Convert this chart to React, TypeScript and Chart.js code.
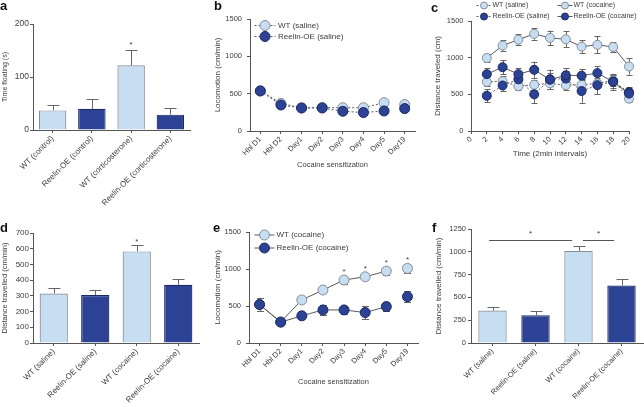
import React, { useEffect, useRef } from 'react';
import { Chart, registerables } from 'chart.js';

Chart.register(...registerables);

const FONT = "'Liberation Sans', Arial, Helvetica, sans-serif";
Chart.defaults.font.family = FONT;
Chart.defaults.color = '#3c3c3c';

const LIGHT = '#c7ddf1';
const LIGHT_EDGE = '#858d98';
const DARK = '#2c4395';
const DARK_EDGE = '#1b2863';
const AXIS = '#555555';
const LINE = '#5a5a5a';
const ERR = '#666666';
const TXT = '#3c3c3c';

// ---------------- data ----------------
// panel a
const aLabels = ['WT (control)', 'Reelin-OE (control)', 'WT (corticosterone)', 'Reelin-OE (corticosterone)'];
const aMeans = [37, 40, 122, 29];
const aSem = [10, 18, 29, 13];
const aStarIdx = [2];
const aStarVal = [165];
const aYMax = 200;
const aYStep = 100;

// panel b
const bLabels = ['Hbl D1', 'Hbl D2', 'Day1', 'Day2', 'Day3', 'Day4', 'Day5', 'Day19'];
const bSeries = ['WT (saline)', 'Reelin-OE (saline)'];
const bWT = [540, 370, 310, 315, 312, 312, 380, 355];
const bWTErr = [40, 30, 25, 25, 20, 25, 40, 25];
const bOE = [535, 348, 308, 308, 264, 247, 268, 300];
const bOEErr = [45, 25, 20, 20, 20, 20, 20, 35];
const bYMax = 1500;
const bYStep = 500;

// panel c
const cTimes = [2, 4, 6, 8, 10, 12, 14, 16, 18, 20];
const cSeries = ['WT (saline)', 'WT (cocaine)', 'Reelin-OE (saline)', 'Reelin-OE (cocaine)'];
const cWTSal = [670, 680, 610, 630, 650, 625, 630, 650, 690, 440];
const cWTSalErr = [60, 70, 55, 70, 80, 60, 60, 70, 70, 50];
const cWTCoc = [995, 1165, 1245, 1325, 1270, 1250, 1150, 1175, 1145, 880];
const cWTCocErr = [55, 70, 75, 80, 100, 110, 85, 115, 70, 110];
const cOESal = [480, 620, 705, 500, 705, 715, 545, 625, 675, 530];
const cOESalErr = [90, 70, 70, 120, 130, 110, 160, 120, 90, 70];
const cOECoc = [775, 870, 775, 835, 700, 760, 755, 790, 670, 510];
const cOECocErr = [80, 95, 85, 110, 90, 100, 90, 95, 110, 80];
const cXMax = 20;
const cXStep = 2;
const cYMax = 1500;
const cYStep = 500;

// panel d
const dLabels = ['WT (saline)', 'Reelin-OE (saline)', 'WT (cocaine)', 'Reelin-OE (cocaine)'];
const dMeans = [315, 305, 583, 370];
const dSem = [32, 35, 40, 40];
const dStarIdx = [2];
const dStarVal = [657];
const dYMax = 700;
const dYStep = 100;

// panel e
const eLabels = ['Hbl D1', 'Hbl D2', 'Day1', 'Day2', 'Day3', 'Day4', 'Day5', 'Day19'];
const eSeries = ['WT (cocaine)', 'Reelin-OE (cocaine)'];
const eWT = [518, 285, 582, 716, 851, 895, 972, 1008];
const eWTErr = [90, 30, 25, 40, 50, 50, 55, 60];
const eOE = [520, 282, 367, 447, 447, 411, 492, 626];
const eOEErr = [90, 30, 30, 65, 55, 85, 65, 75];
const eStarIdx = [4, 5, 6, 7];
const eStarVal = [995, 1030, 1110, 1155];
const eYMax = 1500;
const eYStep = 500;

// panel f
const fLabels = ['WT (saline)', 'Reelin-OE (saline)', 'WT (cocaine)', 'Reelin-OE (cocaine)'];
const fMeans = [355, 305, 1010, 630];
const fSem = [38, 42, 58, 72];
const fSigFrom = [0, 2];
const fSigTo = [2, 3];
const fSigVal = [1130, 1130];
const fStarVal = [1220, 1220];
const fYMax = 1250;
const fYStep = 250;

// ---------------- layout (style) ----------------
type Box = { x: number; y: number; w: number; h: number; L: number; T: number; R: number; B: number; xH: number };
const boxA: Box = { x: 0, y: 0, w: 215, h: 215, L: 33, T: 24, R: 190, B: 130, xH: 85 };
const boxB: Box = { x: 215, y: 0, w: 215, h: 200, L: 35, T: 19, R: 200, B: 131, xH: 38.5 };
const boxC: Box = { x: 430, y: 0, w: 214, h: 200, L: 41, T: 21, R: 199, B: 131, xH: 27.5 };
const boxD: Box = { x: 0, y: 200, w: 215, h: 207, L: 33, T: 33, R: 199, B: 143, xH: 64 };
const boxE: Box = { x: 215, y: 200, w: 215, h: 207, L: 34, T: 32, R: 203, B: 143, xH: 43 };
const boxF: Box = { x: 430, y: 200, w: 214, h: 207, L: 41, T: 29, R: 213, B: 143, xH: 64 };

function layoutOf(b: Box) {
  return { autoPadding: false, padding: { left: 0, top: b.T, right: b.w - b.R, bottom: b.h - b.B - b.xH } };
}

const plainNum = (v: any) => String(v);

function yAxis(b: Box, max: number, step: number, fs: number, title: string, tfs: number, tpad: number, tickPad: number) {
  return {
    min: 0,
    max,
    ticks: { stepSize: step, font: { size: fs }, color: TXT, padding: tickPad, callback: plainNum },
    grid: { display: true, drawOnChartArea: false, drawTicks: true, tickLength: 3, color: AXIS, lineWidth: 1 },
    border: { display: true, color: AXIS, width: 1 },
    title: { display: true, text: title, font: { size: tfs }, color: TXT, padding: { top: tpad, bottom: 0 } },
    afterFit: (s: any) => { s.width = b.L; },
  };
}

function xCat(b: Box, fs: number, tickPad: number, title?: string, tfs?: number) {
  return {
    type: 'category',
    offset: true,
    ticks: { autoSkip: false, minRotation: 45, maxRotation: 45, font: { size: fs }, color: TXT, padding: tickPad },
    grid: { display: true, drawOnChartArea: false, drawTicks: true, tickLength: 3, offset: false, color: AXIS, lineWidth: 1 },
    border: { display: true, color: AXIS, width: 1 },
    title: title
      ? { display: true, text: title, font: { size: tfs }, color: TXT, padding: { top: 0, bottom: 0 } }
      : { display: false },
    afterFit: (s: any) => { s.height = b.xH; },
  };
}

type LegendItem = { ds: number; x: number; y: number };
type Extras = {
  errBoth?: (number[] | null)[];
  errUp?: number[];
  cap?: number;
  stars?: { idx: number[]; val: number[]; size: number };
  sig?: { from: number[]; to: number[]; val: number[]; starVal: number[] };
  legend?: { items: LegendItem[]; half: number; r: number; tx: number; size: number };
};

function yOf(d: any) {
  return typeof d === 'number' ? d : d.y;
}

function extrasPlugin(ex: Extras) {
  return {
    id: 'extras',
    beforeDatasetsDraw(chart: any) {
      if (!ex.errBoth) return;
      const ctx = chart.ctx;
      const ys = chart.scales.y;
      const cap = ex.cap || 6;
      ctx.save();
      ctx.strokeStyle = ERR;
      ctx.lineWidth = 1;
      ex.errBoth.forEach((e, di) => {
        if (!e) return;
        const meta = chart.getDatasetMeta(di);
        const data = chart.data.datasets[di].data;
        meta.data.forEach((pt: any, i: number) => {
          const v = yOf(data[i]);
          const hi = ys.getPixelForValue(v + e[i]);
          const lo = ys.getPixelForValue(v - e[i]);
          const x = Math.round(pt.x) + 0.5;
          ctx.beginPath();
          ctx.moveTo(x, hi);
          ctx.lineTo(x, lo);
          ctx.moveTo(x - cap / 2, Math.round(hi) + 0.5);
          ctx.lineTo(x + cap / 2, Math.round(hi) + 0.5);
          ctx.moveTo(x - cap / 2, Math.round(lo) + 0.5);
          ctx.lineTo(x + cap / 2, Math.round(lo) + 0.5);
          ctx.stroke();
        });
      });
      ctx.restore();
    },
    afterDatasetsDraw(chart: any) {
      const ctx = chart.ctx;
      const ys = chart.scales.y;
      const xs = chart.scales.x;
      ctx.save();
      if (ex.errUp) {
        const meta = chart.getDatasetMeta(0);
        const data = chart.data.datasets[0].data;
        const cap = ex.cap || 12;
        ctx.strokeStyle = ERR;
        ctx.lineWidth = 1;
        meta.data.forEach((bar: any, i: number) => {
          const hi = Math.round(ys.getPixelForValue(data[i] + ex.errUp![i])) + 0.5;
          const x = Math.round(bar.x) + 0.5;
          ctx.beginPath();
          ctx.moveTo(x, bar.y);
          ctx.lineTo(x, hi);
          ctx.moveTo(x - cap / 2, hi);
          ctx.lineTo(x + cap / 2, hi);
          ctx.stroke();
        });
      }
      if (ex.stars) {
        ctx.fillStyle = TXT;
        ctx.font = `${ex.stars.size}px ${FONT}`;
        ctx.textAlign = 'center';
        ctx.textBaseline = 'middle';
        ex.stars.idx.forEach((k, i) => {
          ctx.fillText('*', xs.getPixelForValue(k), ys.getPixelForValue(ex.stars!.val[i]) + 2);
        });
      }
      if (ex.sig) {
        const cw = xs.getPixelForValue(1) - xs.getPixelForValue(0);
        ctx.strokeStyle = AXIS;
        ctx.lineWidth = 1;
        ctx.fillStyle = TXT;
        ctx.font = `8px ${FONT}`;
        ctx.textAlign = 'center';
        ctx.textBaseline = 'middle';
        const offs = [[-0.08, -0.15], [0.1, -0.17]];
        ex.sig.from.forEach((f, i) => {
          const x1 = xs.getPixelForValue(f) + offs[i][0] * cw;
          const x2 = xs.getPixelForValue(ex.sig!.to[i]) + offs[i][1] * cw;
          const y = Math.round(ys.getPixelForValue(ex.sig!.val[i])) + 0.5;
          ctx.beginPath();
          ctx.moveTo(x1, y);
          ctx.lineTo(x2, y);
          ctx.stroke();
          ctx.fillText('*', (x1 + x2) / 2, ys.getPixelForValue(ex.sig!.starVal[i]) + 2);
        });
      }
      if (ex.legend) {
        const lg = ex.legend;
        lg.items.forEach((it) => {
          const ds = chart.data.datasets[it.ds];
          ctx.strokeStyle = LINE;
          ctx.lineWidth = 1;
          ctx.setLineDash(ds.borderDash || []);
          ctx.beginPath();
          ctx.moveTo(it.x - lg.half, it.y + 0.5);
          ctx.lineTo(it.x + lg.half, it.y + 0.5);
          ctx.stroke();
          ctx.setLineDash([]);
          ctx.beginPath();
          ctx.arc(it.x, it.y + 0.5, lg.r, 0, Math.PI * 2);
          ctx.fillStyle = ds.pointBackgroundColor;
          ctx.fill();
          ctx.strokeStyle = ds.pointBorderColor;
          ctx.stroke();
          ctx.fillStyle = TXT;
          ctx.font = `${lg.size}px ${FONT}`;
          ctx.textAlign = 'left';
          ctx.textBaseline = 'middle';
          ctx.fillText(ds.label, it.x + lg.tx, it.y + 0.5);
        });
      }
      ctx.restore();
    },
  };
}

const baseOpts = {
  responsive: false,
  animation: false,
  events: [],
  plugins: { legend: { display: false }, tooltip: { enabled: false } },
};

function barConfig(b: Box, labels: string[], means: number[], sem: number[], o: any) {
  return {
    type: 'bar',
    data: {
      labels,
      datasets: [
        {
          data: means,
          backgroundColor: labels.map((_, i) => (i % 2 === 0 ? LIGHT : DARK)),
          borderColor: labels.map((_, i) => (i % 2 === 0 ? LIGHT_EDGE : DARK_EDGE)),
          borderWidth: 1.2,
          barPercentage: o.barPct,
          categoryPercentage: 1,
        },
      ],
    },
    options: {
      ...baseOpts,
      layout: layoutOf(b),
      scales: {
        x: xCat(b, o.xfs, o.xpad),
        y: yAxis(b, o.max, o.step, o.yfs, o.title, o.tfs, o.tpad, o.ypad),
      },
    },
    plugins: [extrasPlugin({ errUp: sem, cap: o.cap, stars: o.stars, sig: o.sig })],
  };
}

function pointDs(label: string, data: any[], light: boolean, dashed: boolean, r: number, order: number, gapLabel?: string, labels?: string[]) {
  return {
    label,
    data,
    borderColor: LINE,
    borderWidth: 1,
    borderDash: dashed ? [2, 2] : [],
    pointRadius: r,
    pointHoverRadius: r,
    pointBackgroundColor: light ? LIGHT : DARK,
    pointBorderColor: light ? LIGHT_EDGE : DARK_EDGE,
    pointBorderWidth: 1,
    fill: false,
    tension: 0,
    clip: false,
    order,
    segment: gapLabel
      ? { borderColor: (ctx: any) => (labels && labels[ctx.p1DataIndex] === gapLabel ? 'rgba(0,0,0,0)' : undefined) }
      : undefined,
  };
}

function configA() {
  return barConfig(boxA, aLabels, aMeans, aSem, {
    barPct: 0.7, xfs: 8, xpad: 1, max: aYMax, step: aYStep, yfs: 8.5, title: 'Time floating (s)', tfs: 7, tpad: 0.5, ypad: 1, cap: 12,
    stars: { idx: aStarIdx, val: aStarVal, size: 8 },
  });
}

function configD() {
  return barConfig(boxD, dLabels, dMeans, dSem, {
    barPct: 0.68, xfs: 8, xpad: 1, max: dYMax, step: dYStep, yfs: 8, title: 'Distance travelled (cm/min)', tfs: 7.5, tpad: 0, ypad: 1, cap: 12,
    stars: { idx: dStarIdx, val: dStarVal, size: 8 },
  });
}

function configF() {
  return barConfig(boxF, fLabels, fMeans, fSem, {
    barPct: 0.66, xfs: 7.5, xpad: 1, max: fYMax, step: fYStep, yfs: 7.5, title: 'Distance travelled (cm/min)', tfs: 8, tpad: 3.5, ypad: 2, cap: 12,
    sig: { from: fSigFrom, to: fSigTo, val: fSigVal, starVal: fStarVal },
  });
}

function configB() {
  return {
    type: 'line',
    data: {
      labels: bLabels,
      datasets: [
        pointDs(bSeries[0], bWT, true, true, 5, 1, 'Day19', bLabels),
        pointDs(bSeries[1], bOE, false, true, 5, 0, 'Day19', bLabels),
      ],
    },
    options: {
      ...baseOpts,
      layout: layoutOf(boxB),
      scales: {
        x: xCat(boxB, 7.5, 1, 'Cocaine sensitization', 7.5),
        y: yAxis(boxB, bYMax, bYStep, 7.5, 'Locomotion (cm/min)', 8, -2.5, 5),
      },
    },
    plugins: [
      extrasPlugin({
        errBoth: [bWTErr, bOEErr],
        cap: 7,
        legend: { items: [{ ds: 0, x: 50, y: 25 }, { ds: 1, x: 50, y: 36 }], half: 10.5, r: 5, tx: 13, size: 8 },
      }),
    ],
  };
}

function configE() {
  return {
    type: 'line',
    data: {
      labels: eLabels,
      datasets: [
        pointDs(eSeries[0], eWT, true, false, 5, 1, 'Day19', eLabels),
        pointDs(eSeries[1], eOE, false, false, 5, 0, 'Day19', eLabels),
      ],
    },
    options: {
      ...baseOpts,
      layout: layoutOf(boxE),
      scales: {
        x: xCat(boxE, 7.5, 1, 'Cocaine sensitization', 7.5),
        y: yAxis(boxE, eYMax, eYStep, 7.5, 'Locomotion (cm/min)', 8, -2.5, 5),
      },
    },
    plugins: [
      extrasPlugin({
        errBoth: [eWTErr, eOEErr],
        cap: 7,
        stars: { idx: eStarIdx, val: eStarVal, size: 8 },
        legend: { items: [{ ds: 0, x: 49.5, y: 34.5 }, { ds: 1, x: 49.5, y: 47.5 }], half: 10, r: 5, tx: 12, size: 8 },
      }),
    ],
  };
}

function configC() {
  const pts = (ys: number[]) => cTimes.map((t, i) => ({ x: t, y: ys[i] }));
  return {
    type: 'line',
    data: {
      datasets: [
        pointDs(cSeries[0], pts(cWTSal), true, true, 4.5, 2),
        pointDs(cSeries[1], pts(cWTCoc), true, false, 4.5, 3),
        pointDs(cSeries[2], pts(cOESal), false, true, 4.5, 1),
        pointDs(cSeries[3], pts(cOECoc), false, false, 4.5, 0),
      ],
    },
    options: {
      ...baseOpts,
      layout: layoutOf(boxC),
      scales: {
        x: {
          type: 'linear',
          min: 0,
          max: cXMax,
          ticks: { stepSize: cXStep, minRotation: 45, maxRotation: 45, autoSkip: false, font: { size: 7.5 }, color: TXT, padding: 1, callback: plainNum },
          grid: { display: true, drawOnChartArea: false, drawTicks: true, tickLength: 3, color: AXIS, lineWidth: 1 },
          border: { display: true, color: AXIS, width: 1 },
          title: { display: true, text: 'Time (2min intervals)', font: { size: 8 }, color: TXT, padding: { top: 0, bottom: 0 } },
          afterFit: (s: any) => { s.height = boxC.xH; },
        },
        y: yAxis(boxC, cYMax, cYStep, 7.5, 'Distance traveled (cm)', 8, 2.5, 4.5),
      },
    },
    plugins: [
      extrasPlugin({
        errBoth: [cWTSalErr, cWTCocErr, cOESalErr, cOECocErr],
        cap: 6,
        legend: {
          items: [
            { ds: 0, x: 54, y: 5 },
            { ds: 1, x: 135, y: 5 },
            { ds: 2, x: 54, y: 16 },
            { ds: 3, x: 135, y: 16 },
          ],
          half: 7.5,
          r: 3.5,
          tx: 8.5,
          size: 7,
        },
      }),
    ],
  };
}

function Panel({ box, build }: { box: Box; build: () => any }) {
  const ref = useRef<HTMLCanvasElement>(null);
  useEffect(() => {
    const chart = new Chart(ref.current as HTMLCanvasElement, build());
    return () => chart.destroy();
  }, []);
  return (
    <canvas
      ref={ref}
      width={box.w}
      height={box.h}
      style={{ position: 'absolute', left: box.x, top: box.y, width: box.w, height: box.h }}
    />
  );
}

const letterStyle = (left: number, top: number): React.CSSProperties => ({
  position: 'absolute',
  left,
  top,
  fontFamily: FONT,
  fontWeight: 'bold',
  fontSize: 13,
  lineHeight: '13px',
  color: '#111',
});

export default function App() {
  return (
    <div style={{ position: 'absolute', left: 0, top: 0, width: 644, height: 407, background: '#fff', overflow: 'hidden' }}>
      <Panel box={boxA} build={configA} />
      <Panel box={boxB} build={configB} />
      <Panel box={boxC} build={configC} />
      <Panel box={boxD} build={configD} />
      <Panel box={boxE} build={configE} />
      <Panel box={boxF} build={configF} />
      <div style={letterStyle(0, -1)}>a</div>
      <div style={letterStyle(214, -1)}>b</div>
      <div style={letterStyle(431, 1)}>c</div>
      <div style={letterStyle(0, 221)}>d</div>
      <div style={letterStyle(213, 221)}>e</div>
      <div style={letterStyle(432, 221)}>f</div>
    </div>
  );
}
